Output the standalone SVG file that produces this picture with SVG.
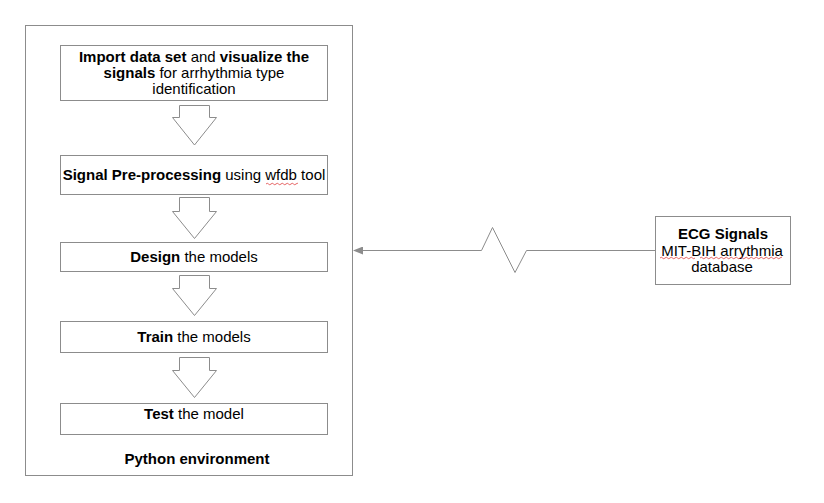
<svg xmlns="http://www.w3.org/2000/svg" width="824" height="503" viewBox="0 0 824 503">
<style>
.box{fill:#fff;stroke:#8c8c8c;stroke-width:1}
.arr{fill:#fff;stroke:#8c8c8c;stroke-width:1;stroke-linejoin:miter}
text{font-family:"Liberation Sans",Arial,sans-serif;font-size:15px;fill:#000;text-anchor:middle}
.b{font-weight:bold}
.sq{fill:none;stroke:#e04040;stroke-width:0.8}
.conn{fill:none;stroke:#8c8c8c;stroke-width:1}
</style>
<defs>
<marker id="ah" markerWidth="10" markerHeight="8" refX="9" refY="4" orient="auto" markerUnits="userSpaceOnUse">
<path d="M0,0 L10,4 L0,8 Z" fill="#8c8c8c"/>
</marker>
<path id="wave" d="M0,0 q1.25,-1.5 2.5,0 t2.5,0 t2.5,0 t2.5,0 t2.5,0 t2.5,0 t2.5,0 t2.5,0 t2.5,0 t2.5,0 t2.5,0 t2.5,0 t2.5,0 t2.5,0 t2.5,0 t2.5,0 t2.5,0 t2.5,0 t2.5,0 t2.5,0 t2.5,0 t2.5,0 t2.5,0 t2.5,0 t2.5,0 t2.5,0 t2.5,0 t2.5,0 t2.5,0 t2.5,0 t2.5,0 t2.5,0"/>
<clipPath id="c1"><rect x="266" y="180" width="32" height="8"/></clipPath>
<clipPath id="c2"><rect x="660" y="254" width="35" height="8"/><rect x="700" y="254" width="82" height="8"/></clipPath>
</defs>
<rect width="824" height="503" fill="#fff"/>
<g id="python-env">
<rect class="box" x="25.5" y="25.5" width="327" height="450"/>
<text class="b" x="197" y="464">Python environment</text>
</g>
<g id="step1">
<rect class="box" x="60.5" y="45.5" width="267" height="55"/>
<text x="194" y="61.5"><tspan class="b">Import data set</tspan> and <tspan class="b">visualize the</tspan></text>
<text x="194" y="77.5"><tspan class="b">signals</tspan> for arrhythmia type</text>
<text x="194" y="94">identification</text>
</g>
<g id="step2">
<rect class="box" x="60.5" y="155.5" width="267" height="39"/>
<text x="194" y="180"><tspan class="b">Signal Pre-processing</tspan> using wfdb tool</text>
<g clip-path="url(#c1)"><use href="#wave" class="sq" x="266" y="184"/></g>
</g>
<g id="step3">
<rect class="box" x="60.5" y="242.5" width="267" height="29"/>
<text x="194" y="261.5"><tspan class="b">Design</tspan> the models</text>
</g>
<g id="step4">
<rect class="box" x="60.5" y="321.5" width="267" height="31"/>
<text x="194" y="341.5"><tspan class="b">Train</tspan> the models</text>
</g>
<g id="step5">
<rect class="box" x="60.5" y="403.5" width="267" height="31"/>
<text x="194" y="418.5"><tspan class="b">Test</tspan> the model</text>
</g>
<g id="ecg">
<rect class="box" x="655.5" y="216.5" width="135" height="68"/>
<text class="b" x="723" y="239">ECG Signals</text>
<text x="722" y="255.5">MIT-BIH arrythmia</text>
<text x="722" y="271.5">database</text>
<g clip-path="url(#c2)"><use href="#wave" class="sq" x="660" y="258"/><use href="#wave" class="sq" x="740" y="258"/></g>
</g>
<g id="connectors">
<path class="arr" d="M179.5,105.5 H209.5 V117.5 H216.5 L194.5,145 L172.5,117.5 H179.5 Z"/>
<path class="arr" d="M179.5,197.5 H209.5 V211.5 H216.5 L194.5,238.5 L172.5,211.5 H179.5 Z"/>
<path class="arr" d="M179.5,275.5 H209.5 V288.5 H216.5 L194.5,315.5 L172.5,288.5 H179.5 Z"/>
<path class="arr" d="M179.5,357.5 H209.5 V370.5 H216.5 L194.5,397.5 L172.5,370.5 H179.5 Z"/>
<path class="conn" d="M655,250.5 H526.5 L515,272.5 L492.5,227.5 L481.5,250.5 H354" marker-end="url(#ah)"/>
</g>
</svg>
